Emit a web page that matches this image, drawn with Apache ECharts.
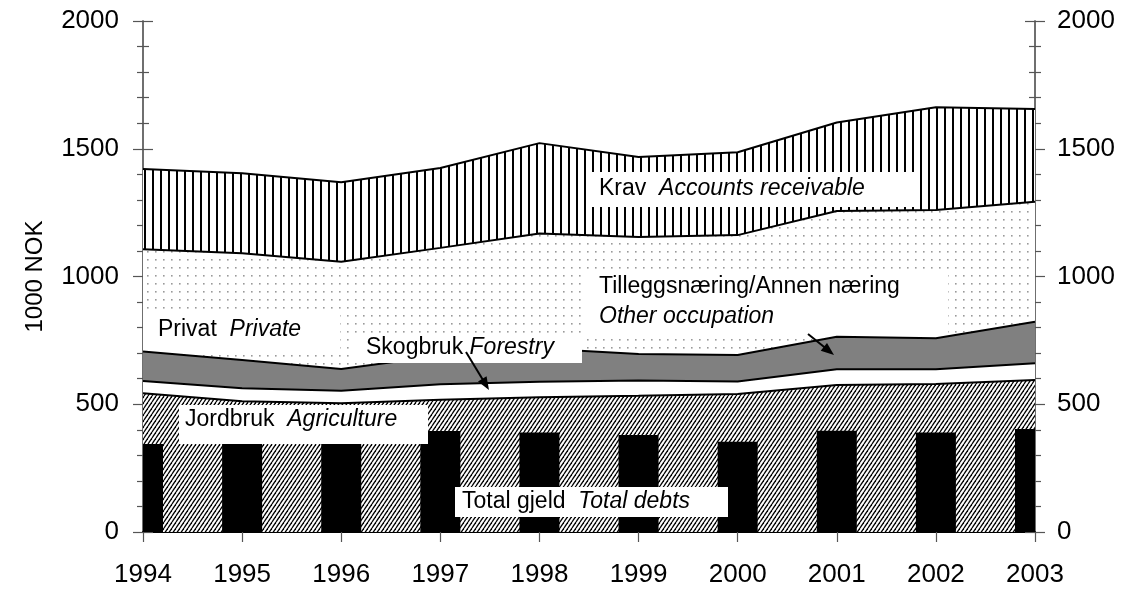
<!DOCTYPE html>
<html>
<head>
<meta charset="utf-8">
<script src="https://cdn.jsdelivr.net/npm/echarts@6/dist/echarts.min.js"></script>
<style>
html,body{margin:0;padding:0;background:#fff;}
#chart{width:1124px;height:591px;}
</style>
</head>
<body>
<div id="chart"></div>
<script>
// ---- data (1000 NOK) ----
const years = ['1994','1995','1996','1997','1998','1999','2000','2001','2002','2003'];
// stacked layers (thickness of each layer)
const agriculture     = [543, 512, 504, 518, 527, 533, 540, 575, 579, 595];
const forestry        = [48, 51, 49, 60, 61, 60, 49, 62, 58, 65];
const otherOccupation = [115, 110, 85, 112, 130, 104, 104, 127, 121, 163];
const privateAssets   = [401, 418, 420, 422, 450, 458, 469, 492, 502, 470];
const receivables     = [314, 313, 311, 313, 354, 313, 324, 347, 402, 363];
// bars
const totalDebts      = [344, 345, 345, 395, 389, 380, 353, 396, 389, 403];
const yTicks = [0, 500, 1000, 1500, 2000];

// ---- patterns ----
function makeCanvas(w, h, draw) {
  const c = document.createElement('canvas');
  c.width = w; c.height = h;
  const ctx = c.getContext('2d');
  ctx.fillStyle = '#fff';
  ctx.fillRect(0, 0, w, h);
  draw(ctx);
  return c;
}
const hatch = makeCanvas(4, 6, ctx => {
  ctx.strokeStyle = '#000';
  ctx.lineWidth = 1.3;
  for (let x0 = -4; x0 <= 4; x0 += 4) {
    ctx.beginPath();
    ctx.moveTo(x0, 6);
    ctx.lineTo(x0 + 4, 0);
    ctx.stroke();
  }
});
const dots = makeCanvas(8, 8, ctx => {
  ctx.fillStyle = '#9a9a9a';
  ctx.fillRect(3, 3, 1.6, 1.6);
});
const vlines = makeCanvas(8, 4, ctx => {
  ctx.fillStyle = '#000';
  ctx.fillRect(0, 0, 2, 4);
});

const FONT = '"Liberation Sans", Arial, sans-serif';
const chart = echarts.init(document.getElementById('chart'), null, {renderer: 'canvas'});

function yAx(pos, inside, labels) {
  return {
    type: 'value', position: pos, min: 0, max: 2000, interval: 500,
    axisLine: {show: true, lineStyle: {color: '#666', width: 1.5}},
    axisTick: {show: true, inside: inside, length: 10, lineStyle: {color: '#555', width: 1.2}},
    minorTick: {show: true, splitNumber: 5, length: 6, lineStyle: {color: '#555', width: 1.2}},
    splitLine: {show: false},
    minorSplitLine: {show: false},
    axisLabel: {show: labels, fontFamily: FONT, fontSize: 26, color: '#000', margin: pos === 'left' ? 24 : 22,
      formatter: v => yTicks.indexOf(v) >= 0 ? String(v) : ''},
    name: (labels && pos === 'left') ? '1000 NOK' : '',
    nameLocation: 'middle', nameGap: 96, nameRotate: 90,
    nameTextStyle: {fontFamily: FONT, fontSize: 24, color: '#000'}
  };
}

function layer(name, data, fill) {
  return {
    name: name, type: 'line', stack: 'assets', data: data,
    symbol: 'none', smooth: false,
    lineStyle: {color: '#000', width: 2},
    areaStyle: {color: fill, opacity: 1},
    z: 2
  };
}

function label(x, y, w, h, text, tx, ty, rich) {
  return [
    {type: 'rect', z: 100, shape: {x: x, y: y, width: w, height: h}, style: {fill: '#fff'}},
    {type: 'text', z: 101, style: {x: tx, y: ty, text: text, verticalAlign: 'middle', align: 'left',
      fontFamily: FONT, fontSize: 23, fill: '#000', rich: rich}}
  ];
}
const richStyle = {
  n: {fontFamily: FONT, fontSize: 23, fill: '#000', lineHeight: 30},
  i: {fontFamily: FONT, fontSize: 23, fill: '#000', fontStyle: 'italic', lineHeight: 30}
};

function arrow(x1, y1, x2, y2) {
  const dx = x2 - x1, dy = y2 - y1, L = Math.hypot(dx, dy);
  const ux = dx / L, uy = dy / L, px = -uy, py = ux;
  const al = 13, aw = 5;
  const bx = x2 - al * ux, by = y2 - al * uy;
  return [
    {type: 'line', z: 102, shape: {x1: x1, y1: y1, x2: bx + ux * 2, y2: by + uy * 2}, style: {stroke: '#000', lineWidth: 2}},
    {type: 'polygon', z: 102, shape: {points: [[x2, y2], [bx + px * aw, by + py * aw], [bx - px * aw, by - py * aw]]}, style: {fill: '#000'}}
  ];
}

const graphics = [].concat(
  label(590, 172, 328, 35, '{n|Krav  }{i|Accounts receivable}', 599, 189, richStyle),
  label(585, 272, 363, 62, '{n|Tilleggsnæring/Annen næring}\n{i|Other occupation}', 599, 302, richStyle),
  label(145, 313, 195, 37, '{n|Privat  }{i|Private}', 158, 330, richStyle),
  label(352, 333, 230, 30, '{n|Skogbruk }{i|Forestry}', 366, 348, richStyle),
  label(179, 405, 249, 39, '{n|Jordbruk  }{i|Agriculture}', 185, 420, richStyle),
  label(455, 487, 273, 30, '{n|Total gjeld  }{i|Total debts}', 462, 502, richStyle),
  arrow(466, 352, 489, 390),
  arrow(808, 334, 834, 355)
);

const BAR_W = 40;
function renderBar(params, api) {
  const idx = api.value(0), v = api.value(1);
  const top = api.coord([idx, v]);
  const base = api.coord([idx, 0]);
  const cs = params.coordSys;
  const rect = echarts.graphic.clipRectByRect(
    {x: top[0] - BAR_W / 2, y: top[1], width: BAR_W, height: base[1] - top[1]},
    {x: cs.x, y: cs.y, width: cs.width, height: cs.height}
  );
  return rect ? {type: 'rect', shape: rect, style: {fill: '#000'}} : null;
}

chart.setOption({
  animation: false,
  backgroundColor: '#fff',
  grid: {left: 143, right: 89, top: 21, bottom: 59, containLabel: false},
  xAxis: {
    type: 'category', data: years, boundaryGap: false,
    axisLine: {show: true, lineStyle: {color: '#000', width: 2}},
    axisTick: {show: true, length: 10, lineStyle: {color: '#555', width: 1.2}},
    axisLabel: {fontFamily: FONT, fontSize: 26, color: '#000', margin: 30},
    splitLine: {show: false}
  },
  yAxis: [yAx('left', false, true), yAx('left', true, false), yAx('right', false, true), yAx('right', true, false)],
  series: [
    layer('Jordbruk', agriculture, {image: hatch, repeat: 'repeat'}),
    layer('Skogbruk', forestry, '#ffffff'),
    layer('Tilleggsnæring/Annen næring', otherOccupation, '#808080'),
    layer('Privat', privateAssets, {image: dots, repeat: 'repeat'}),
    layer('Krav', receivables, {image: vlines, repeat: 'repeat'}),
    {
      name: 'Total gjeld', type: 'custom', renderItem: renderBar,
      data: totalDebts.map((v, i) => [i, v]),
      encode: {x: 0, y: 1}, z: 5
    }
  ],
  graphic: graphics
});
</script>
</body>
</html>
